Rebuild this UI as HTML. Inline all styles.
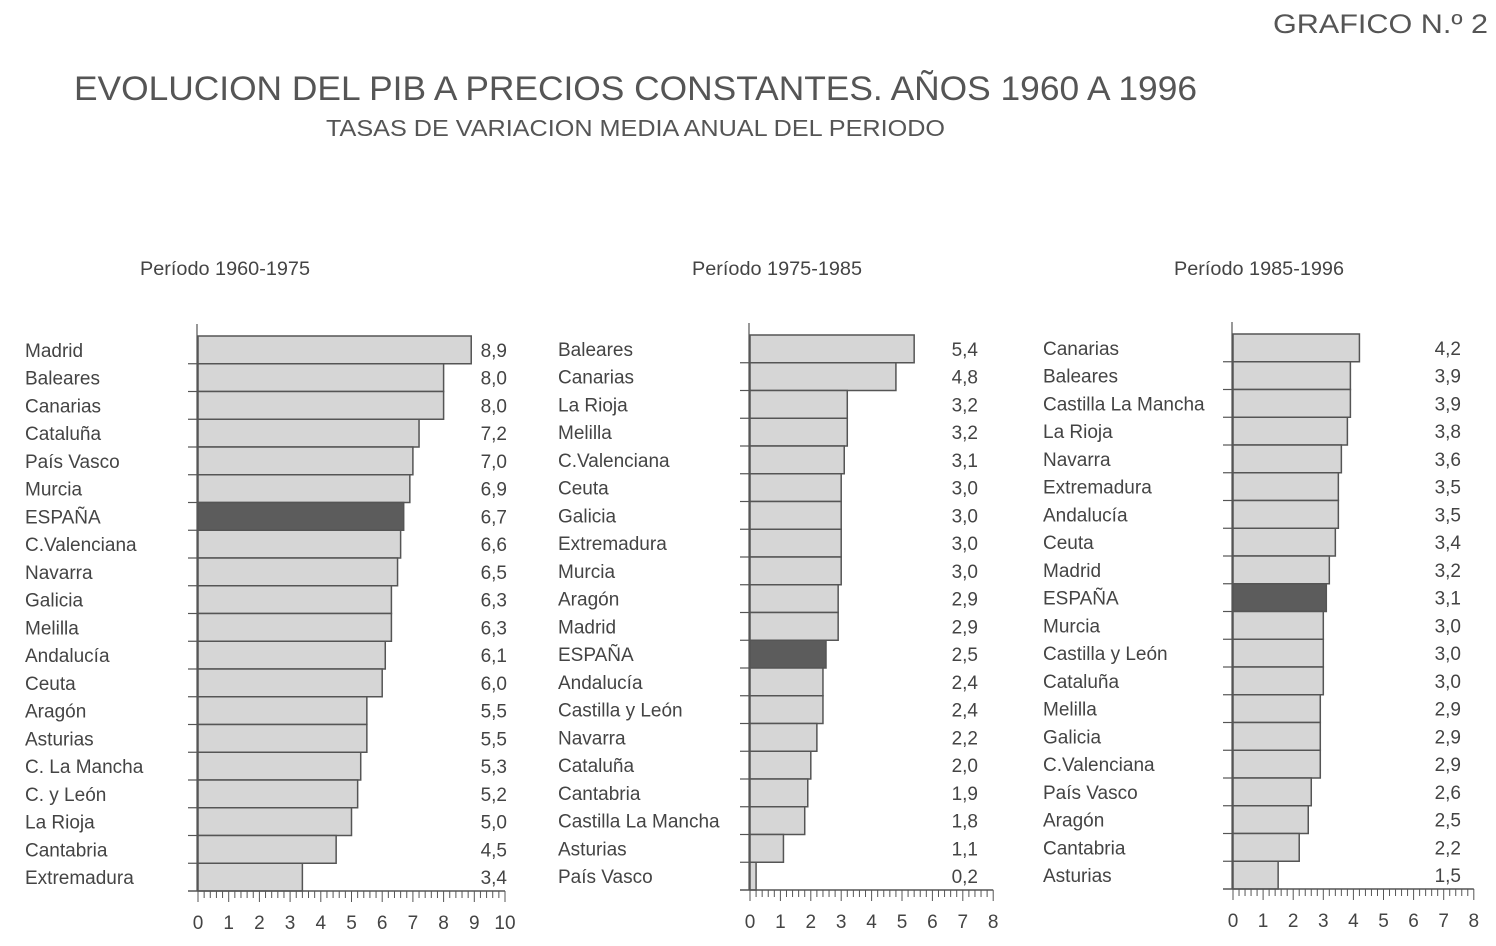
<!DOCTYPE html>
<html><head><meta charset="utf-8">
<style>
html,body{margin:0;padding:0;background:#fff;}
svg{display:block;font-family:"Liberation Sans",sans-serif;}
</style></head>
<body>
<svg id="chart" width="1496" height="946" viewBox="0 0 1496 946" xmlns="http://www.w3.org/2000/svg">
<text x="1273" y="33" textLength="215" lengthAdjust="spacingAndGlyphs" font-size="27" fill="#555">GRAFICO N.º 2</text>
<text x="74" y="100" textLength="1123" lengthAdjust="spacingAndGlyphs" font-size="34" fill="#555">EVOLUCION DEL PIB A PRECIOS CONSTANTES. AÑOS 1960 A 1996</text>
<text x="326" y="136" textLength="619" lengthAdjust="spacingAndGlyphs" font-size="23" fill="#555">TASAS DE VARIACION MEDIA ANUAL DEL PERIODO</text>
</svg>
<script>
const cats1=["Madrid","Baleares","Canarias","Cataluña","País Vasco","Murcia","ESPAÑA","C.Valenciana","Navarra","Galicia","Melilla","Andalucía","Ceuta","Aragón","Asturias","C. La Mancha","C. y León","La Rioja","Cantabria","Extremadura"];
const vals1=[8.9,8.0,8.0,7.2,7.0,6.9,6.7,6.6,6.5,6.3,6.3,6.1,6.0,5.5,5.5,5.3,5.2,5.0,4.5,3.4];
const cats2=["Baleares","Canarias","La Rioja","Melilla","C.Valenciana","Ceuta","Galicia","Extremadura","Murcia","Aragón","Madrid","ESPAÑA","Andalucía","Castilla y León","Navarra","Cataluña","Cantabria","Castilla La Mancha","Asturias","País Vasco"];
const vals2=[5.4,4.8,3.2,3.2,3.1,3.0,3.0,3.0,3.0,2.9,2.9,2.5,2.4,2.4,2.2,2.0,1.9,1.8,1.1,0.2];
const cats3=["Canarias","Baleares","Castilla La Mancha","La Rioja","Navarra","Extremadura","Andalucía","Ceuta","Madrid","ESPAÑA","Murcia","Castilla y León","Cataluña","Melilla","Galicia","C.Valenciana","País Vasco","Aragón","Cantabria","Asturias"];
const vals3=[4.2,3.9,3.9,3.8,3.6,3.5,3.5,3.4,3.2,3.1,3.0,3.0,3.0,2.9,2.9,2.9,2.6,2.5,2.2,1.5];
const ticks1=["0","1","2","3","4","5","6","7","8","9","10"];
const ticks2=["0","1","2","3","4","5","6","7","8"];
const ticks3=["0","1","2","3","4","5","6","7","8"];
const titles=["Período 1960-1975","Período 1975-1985","Período 1985-1996"];

const svg=document.getElementById('chart');
const NS="http://www.w3.org/2000/svg";
function mk(tag,attrs,parent){const e=document.createElementNS(NS,tag);for(const k in attrs)e.setAttribute(k,attrs[k]);(parent||svg).appendChild(e);return e;}

const panels=[
 {cats:cats1,vals:vals1,ticks:ticks1,x0:198,unit:30.7,top:336,bottom:891,labelX:25,valX:507,titleX:140},
 {cats:cats2,vals:vals2,ticks:ticks2,x0:750,unit:30.4,top:335,bottom:890,labelX:558,valX:978,titleX:692},
 {cats:cats3,vals:vals3,ticks:ticks3,x0:1233,unit:30.1,top:334,bottom:889,labelX:1043,valX:1461,titleX:1174}
];
panels.forEach((p,pi)=>{
  const g=mk('g',{});
  
  
  const t=mk('text',{x:p.titleX,y:275,'font-size':19,fill:'#444',textLength:170,lengthAdjust:'spacingAndGlyphs'},g);
  t.textContent=titles[pi];
  
  
  const n=p.cats.length;
  const rh=(p.bottom-p.top)/n;
  const xs=v=>p.x0+v*p.unit;
  p.cats.forEach((c,i)=>{
    const y=p.top+i*rh;
    const isE=c==="ESPAÑA";
    const r=mk('rect',{x:p.x0,y:y,width:xs(p.vals[i])-p.x0,height:rh,fill:isE?'#5c5c5c':'#d6d6d6',stroke:'#555','stroke-width':1.5},g);
    
    
    const l=mk('text',{x:p.labelX,y:y+rh/2+7,'font-size':19,fill:'#444'},g);
    l.textContent=c;
    
    
    const v=mk('text',{x:p.valX,y:y+rh/2+7,'font-size':19,fill:'#444','text-anchor':'end'},g);
    v.textContent=p.vals[i].toFixed(1).replace('.',',');
    
    
    if(i>0) mk('line',{x1:p.x0-10,x2:p.x0,y1:y,y2:y,stroke:'#555','stroke-width':1.2},g);
  });
  const ax=mk('line',{x1:p.x0-1,x2:p.x0-1,y1:p.top-12,y2:p.bottom,stroke:'#555','stroke-width':1.2},g);
  
  
  const maxT=p.ticks.length-1;
  const xa=mk('line',{x1:p.x0-10,x2:xs(maxT),y1:p.bottom,y2:p.bottom,stroke:'#555','stroke-width':1.5},g);
  
  
  for(let k=0;k<=maxT*5;k++){
    const x=xs(k/5);
    mk('line',{x1:x,x2:x,y1:p.bottom,y2:p.bottom+(k%5===0?11:7),stroke:'#555','stroke-width':1},g);
  }
  p.ticks.forEach((tk,k)=>{
    const tt=mk('text',{x:xs(k),y:p.bottom+38,'font-size':19,fill:'#444','text-anchor':'middle'},g);
    tt.textContent=tk;
    
    
  });
});
</script>
</body></html>
